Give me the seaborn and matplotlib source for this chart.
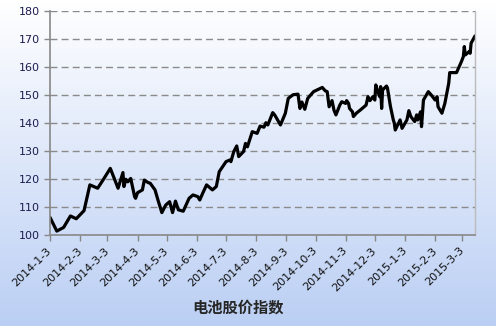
import numpy as np
import pandas as pd
import matplotlib
matplotlib.use("Agg")
import matplotlib.pyplot as plt
import seaborn as sns

dates = [
    "2014-01-03", "2014-01-10", "2014-01-17", "2014-01-24", "2014-01-30",
    "2014-02-07", "2014-02-13", "2014-02-21", "2014-02-27", "2014-03-06",
    "2014-03-14", "2014-03-19", "2014-03-20", "2014-03-22", "2014-03-24",
    "2014-03-27", "2014-03-31", "2014-04-01", "2014-04-03", "2014-04-08",
    "2014-04-10", "2014-04-14", "2014-04-16", "2014-04-21", "2014-04-24",
    "2014-04-28", "2014-05-02", "2014-05-06", "2014-05-09", "2014-05-12",
    "2014-05-15", "2014-05-20", "2014-05-26", "2014-05-30", "2014-06-04",
    "2014-06-06", "2014-06-09", "2014-06-13", "2014-06-19", "2014-06-23",
    "2014-06-26", "2014-07-03", "2014-07-07", "2014-07-08", "2014-07-11",
    "2014-07-14", "2014-07-16", "2014-07-21", "2014-07-23", "2014-07-25",
    "2014-07-30", "2014-08-04", "2014-08-07", "2014-08-11", "2014-08-13",
    "2014-08-15", "2014-08-20", "2014-08-22", "2014-08-28", "2014-09-02",
    "2014-09-05", "2014-09-10", "2014-09-15", "2014-09-17", "2014-09-19",
    "2014-09-22", "2014-09-25", "2014-10-01", "2014-10-10", "2014-10-13",
    "2014-10-15", "2014-10-17", "2014-10-20", "2014-10-22", "2014-10-24",
    "2014-10-28", "2014-10-30", "2014-11-03", "2014-11-04", "2014-11-06",
    "2014-11-07", "2014-11-10", "2014-11-11", "2014-11-14", "2014-11-19",
    "2014-11-24", "2014-11-26", "2014-11-28", "2014-12-01", "2014-12-03",
    "2014-12-04", "2014-12-05", "2014-12-08", "2014-12-09", "2014-12-10",
    "2014-12-11", "2014-12-15", "2014-12-16", "2014-12-18", "2014-12-19",
    "2014-12-22", "2014-12-23", "2014-12-24", "2014-12-29", "2014-12-31",
    "2015-01-05", "2015-01-07", "2015-01-09", "2015-01-13", "2015-01-15",
    "2015-01-16", "2015-01-19", "2015-01-20", "2015-01-22", "2015-01-23",
    "2015-01-27", "2015-01-30", "2015-02-03", "2015-02-05", "2015-02-06",
    "2015-02-10", "2015-02-13", "2015-02-17", "2015-02-18", "2015-02-25",
    "2015-03-02", "2015-03-04", "2015-03-05", "2015-03-06", "2015-03-10",
    "2015-03-11", "2015-03-12", "2015-03-16",
]
values = [
    106.3, 101.4, 102.7, 106.8, 105.8,
    108.7, 117.9, 116.7, 119.9, 123.8,
    116.7, 122.3, 117.3, 119.9, 119.0,
    120.2, 113.7, 113.1, 115.1, 116.1,
    119.6, 118.7, 118.5, 116.1, 112.5,
    108.0, 110.7, 111.9, 108.0, 112.1,
    109.0, 108.5, 113.1, 114.3, 113.7,
    112.5, 114.9, 117.9, 116.1, 117.3,
    122.6, 126.2, 126.8, 126.2, 129.8,
    131.8, 128.0, 129.8, 132.7, 131.5,
    136.9, 136.3, 138.9, 138.5, 140.1,
    139.3, 143.7, 142.9, 139.3, 143.5,
    148.8, 150.1, 150.3, 145.2, 147.5,
    144.9, 148.8, 151.2, 152.7, 151.5,
    151.2, 145.8, 148.0, 144.6, 142.9,
    146.4, 147.6, 147.0, 148.0, 147.0,
    145.2, 144.0, 142.3, 143.5, 144.9,
    146.4, 149.4, 148.0, 149.4, 148.2,
    153.6, 152.4, 149.4, 153.0, 145.2,
    151.8, 153.2, 152.5, 148.2, 146.0,
    141.1, 140.0, 137.5, 141.1, 138.1,
    141.1, 144.4, 142.3, 140.5, 142.9,
    141.1, 144.0, 138.7, 148.2, 148.8,
    151.2, 150.0, 148.2, 149.4, 145.8,
    143.5, 147.0, 154.2, 158.0, 158.0,
    161.9, 163.7, 167.3, 164.3, 165.5,
    164.9, 168.5, 171.1,
]
tick_dates = ["2014-01-03", "2014-02-03", "2014-03-03", "2014-04-03", "2014-05-03",
              "2014-06-03", "2014-07-03", "2014-08-03", "2014-09-03", "2014-10-03",
              "2014-11-03", "2014-12-03", "2015-01-03", "2015-02-03", "2015-03-03"]
tick_labels = ["2014-1-3", "2014-2-3", "2014-3-3", "2014-4-3", "2014-5-3",
               "2014-6-3", "2014-7-3", "2014-8-3", "2014-9-3", "2014-10-3",
               "2014-11-3", "2014-12-3", "2015-1-3", "2015-2-3", "2015-3-3"]
y_ticks = [100, 110, 120, 130, 140, 150, 160, 170, 180]
title = "电池股价指数"

sns.set_theme(style="white")
plt.rcParams['font.family'] = ['DejaVu Sans', 'Noto Sans CJK SC']

df = pd.DataFrame({"date": pd.to_datetime(dates), "value": values})

fig = plt.figure(figsize=(4.96, 3.26), dpi=100)

# gradient background over whole figure
bg = fig.add_axes([0, 0, 1, 1], zorder=0)
top = np.array([1.0, 1.0, 1.0])
bot = np.array([0xbb, 0xcf, 0xf4]) / 255.0
t = np.linspace(0, 1, 256)[:, None]
grad = (top[None, :] * (1 - t) + bot[None, :] * t)[:, None, :]
bg.imshow(grad, aspect="auto", extent=[0, 1, 0, 1])
bg.set_axis_off()

ax = fig.add_axes([50 / 496, 1 - 235 / 326, 425 / 496, 224 / 326], zorder=1)
ax.patch.set_alpha(0)

sns.lineplot(data=df, x="date", y="value", ax=ax, color="black", linewidth=2.3)

ax.set_ylim(100, 180)
ax.set_yticks(y_ticks)
ax.set_xlim(pd.Timestamp("2014-01-03"), pd.Timestamp("2015-03-16"))
ax.set_xticks(pd.to_datetime(tick_dates))
ax.set_xticklabels(tick_labels, rotation=45, ha="right", va="center",
                   rotation_mode="anchor", fontsize=8, color="#111111")
for lab in ax.get_yticklabels():
    lab.set_fontsize(8)
    lab.set_color("#1c1c50")

ax.yaxis.grid(True, linestyle=(0, (5, 3)), color="#8a8a8a", linewidth=1.0)
ax.set_axisbelow(True)
ax.tick_params(axis="both", which="both", direction="out", length=4, width=1,
               color="#888888", left=True, bottom=True, pad=3)
ax.tick_params(axis="x", pad=6)
for s in ["left", "bottom"]:
    ax.spines[s].set_color("#888888")
    ax.spines[s].set_linewidth(1.2)
ax.spines["right"].set_color("#bbbbbb")
ax.spines["right"].set_linewidth(1.0)
ax.spines["top"].set_visible(False)
ax.set_xlabel("")
ax.set_ylabel("")

fig.text(238 / 496, 1 - 308 / 326, title, ha="center", va="center",
         fontsize=11, fontweight="bold", family=["Noto Sans CJK SC", "DejaVu Sans"])

fig.savefig("out.png", dpi=100)
